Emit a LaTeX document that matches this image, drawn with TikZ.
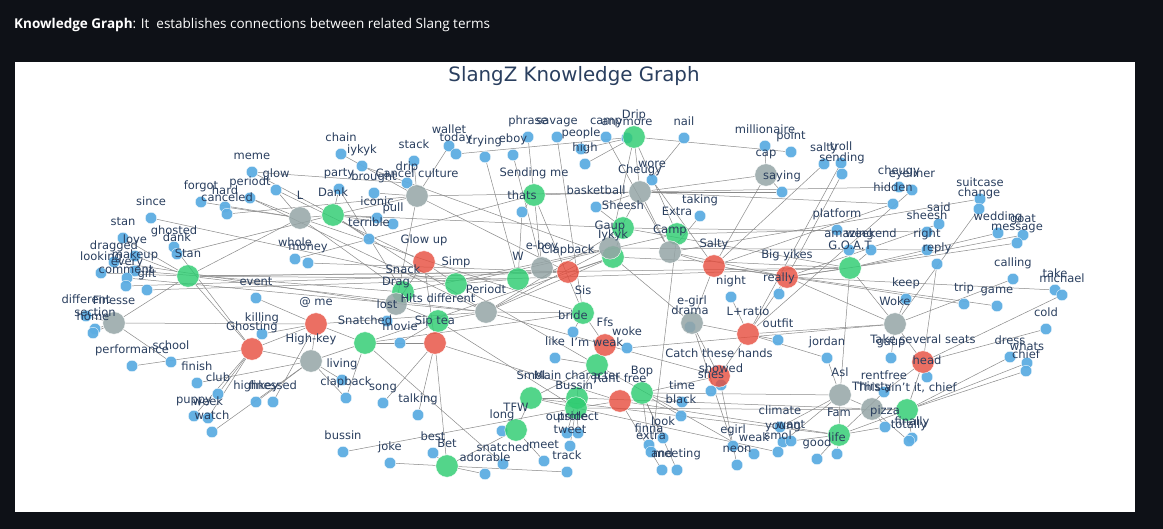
\documentclass[tikz,border=0pt]{standalone}
\usepackage{fontspec}
\setmainfont{DejaVu Sans}
\newfontfamily\hdrfont{Open Sans}
\definecolor{bgdark}{HTML}{0E1117}
\definecolor{titlecol}{HTML}{2A3F5F}
\definecolor{nblue}{HTML}{5DADE2}
\definecolor{ngreen}{HTML}{2ECC71}
\definecolor{ngray}{HTML}{95A5A6}
\definecolor{nred}{HTML}{E74C3C}
\definecolor{edgecol}{HTML}{8A8A8A}
\pgfdeclarelayer{bg}
\pgfdeclarelayer{edges}
\pgfsetlayers{bg,edges,main}
\tikzset{
  bnode/.style={circle,inner sep=0,minimum size=11.5pt,fill=nblue,fill opacity=0.95,draw=white,line width=0.3pt},
  gnode/.style={circle,inner sep=0,minimum size=22.5pt,fill=ngreen,fill opacity=0.82,draw=white,line width=0.4pt},
  ynode/.style={circle,inner sep=0,minimum size=22.5pt,fill=ngray,fill opacity=0.85,draw=white,line width=0.4pt},
  rnode/.style={circle,inner sep=0,minimum size=22.5pt,fill=nred,fill opacity=0.8,draw=white,line width=0.4pt},
  lbl/.style={inner sep=0,anchor=base,text=titlecol,font=\fontsize{11.5}{12}\selectfont},
  edge/.style={draw=edgecol,line width=0.5pt}
}
\def\bluelist{chain/341/154/chain,iykyk/362/166/iykyk,meme/252/172/meme,glow/276/190/glow,periodt/250/198/periodt,forgot/201/202/forgot,hard/225/207/hard,canceled/227/214/canceled,party/339/189/party,brought/374/193/brought,since/151/218/since,stan/123/238/stan,ghosted/174/247/ghosted,dank/177/254/dank,love/135/256/love,dragged/114/262/dragged,makeup/135/271/makeup,looking/101/273/looking,every/127/278/every,comment/126/286/comment,gift/147/290/gift,different/86/316/different,section/95/329/section,home/93/333/home,event/256/298/event,whole/295/259/whole,money/308/263/money,killing/262/334/killing,performance/132/366/performance,school/171/362/school,finish/197/383/finish,club/218/394/club,highkey/256/402/highkey,finessed/273/402/finessed,puppy/194/416/puppy,week/208/418/week,watch/212/432/watch,bussin/343/452/bussin,living/342/380/living,clapback/346/398/clapback,wallet/449/146/wallet,today/456/154/today,stack/414/161/stack,trying/485/157/trying,eboy/513/155/eboy,phrase/528/137/phrase,savage/557/137/savage,people/581/149/people,high/585/164/high,camp/606/137/camp,anymore/627/138/anymore,drip/407/183/drip,iconic/377/218/iconic,pull/393/224/pull,terrible/369/239/terrible,thats/522/212/thats,basketball/596/207/basketball,nail/684/138/nail,millionaire/765/146/millionaire,point/791/152/point,saying/782/192/saying,salty/824/164/salty,troll/841/163/troll,sending/842/174/sending,wore/652/180/wore,taking/700/216/taking,platform/837/230/platform,amazing/849/250/amazing,weekend/871/250/weekend,cheugy/899/187/cheugy,eyeliner/912/190/eyeliner,hidden/893/204/hidden,suitcase/980/199/suitcase,change/979/209/change,said/939/224/said,sheesh/927/232/sheesh,right/927/250/right,reply/937/264/reply,wedding/998/233/wedding,goat/1023/235/goat,message/1017/243/message,calling/1013/279/calling,take/1055/290/take,michael/1062/295/michael,keep/906/299/keep,trip/964/304/trip,game/997/306/game,cold/1046/329/cold,gaup/891/358/gaup,jordan/827/358/jordan,dress/1010/357/dress,whats/1027/363/whats,chief/1026/371/chief,head/927/377/head,rentfree/884/392/rentfree,pizza/885/427/pizza,finally/912/438/finally,totally/909/441/totally,life/837/454/life,good/817/459/good,climate/780/427/climate,young/783/442/young,want/791/441/want,smol/778/452/smol,weak/754/454/weak,egirl/733/446/egirl,neon/737/465/neon,look/663/438/look,finna/649/445/finna,extra/651/452/extra,and/662/470/and,meeting/677/470/meeting,time/682/402/time,black/681/416/black,showed/721/385/showed,shes/711/391/shes,song/383/403/song,talking/418/415/talking,long/502/431/long,outside/567/433/outside,protect/578/433/protect,tweet/570/446/tweet,meet/544/461/meet,track/567/472/track,best/433/453/best,joke/390/463/joke,snatched/503/464/snatched,adorable/485/474/adorable,lost/387/321/lost,movie/400/343/movie,bride/573/332/bride,woke/627/348/woke,like/555/358/like,night/731/297/night,really/779/294/really,drama/690/327/drama,outfit/778/340/outfit}
\def\greenlist{Drip/634/137/Drip,Sendingme/534/195/Sending me,Dank/333/215/Dank,Sheesh/623/228/Sheesh,Iykyk/613/257/Iykyk,Extra/677/234/Extra,Stan/188/276/Stan,Simp/456/284/Simp,Snack/403/292/Snack,W/518/279/W,GOAT/850/268/G.O.A.T,Hits/438/321/Hits different,Sis/583/313/Sis,Snatched/365/343/Snatched,Imweak/597/365/I’m weak,Smol/531/398/Smol,Mainchar/577/398/Main character,Bussin/576/408/Bussin’,Bop/642/393/Bop,TFW/516/430/TFW,Thisaint/907/410/This ain’t it{,} chief,Fam/839/435/Fam,Bet/447/466/Bet}
\def\graylist{L/300/218/L,Cancel/417/196/Cancel culture,Cheugy/640/192/Cheugy,cap/766/175/cap,Gaup/610/248/Gaup,Camp/670/252/Camp,eBoy/542/268/e-boy,Drag/396/304/Drag,Periodt/486/312/Periodt,Finesse/114/323/Finesse,eGirl/692/323/e-girl,Woke/895/324/Woke,Highkey/311/361/High-key,Asl/840/395/Asl,GrayB/872/409/Thirsty}
\def\redlist{Glowup/424/262/Glow up,Clapback/568/272/Clapback,Salty/714/266/Salty,Bigyikes/787/277/Big yikes,Atme/316/324/@ me,Ghosting/252/349/Ghosting,Siptea/435/343/Sip tea,Lratio/748/334/L+ratio,Ffs/605/345/Ffs,Catch/719/376/Catch these hands,Rantfree/620/401/Rant free,Takeseats/923/362/Take several seats}
\begin{document}
\begin{tikzpicture}[x=1pt,y=-1pt]
\useasboundingbox (0,0) rectangle (1163,529);
\begin{pgfonlayer}{bg}
\fill[bgdark] (0,0) rectangle (1163,529);
\fill[white] (15,62) rectangle (1135,512);
\end{pgfonlayer}
\node[anchor=base west,inner sep=0,text=white,font=\hdrfont\fontsize{13.5}{16}\selectfont] (hdr) at (14,29) {\textbf{Knowledge Graph}: It\ \ establishes connections between related Slang terms};
\node[anchor=base,inner sep=0,text=titlecol,font=\fontsize{19.8}{22}\selectfont] (title) at (574,82) {SlangZ Knowledge Graph};
% nodes
\foreach \n/\x/\y/\t in \bluelist {\node[bnode] (\n) at (\x,\y) {};}
\foreach \n/\x/\y/\t in \greenlist {\node[gnode] (\n) at (\x,\y) {};}
\foreach \n/\x/\y/\t in \graylist {\node[ynode] (\n) at (\x,\y) {};}
\foreach \n/\x/\y/\t in \redlist {\node[rnode] (\n) at (\x,\y) {};}
% edges
\begin{pgfonlayer}{edges}
\foreach \a/\b in {chain/Cancel,iykyk/Iykyk,meme/Dank,meme/drip,glow/Glowup,glow/L,periodt/Periodt,periodt/L,forgot/L,hard/L,canceled/Cancel,party/Dank,party/Snack,brought/Cancel,since/Simp,stan/Stan,ghosted/Ghosting,dank/Dank,love/Stan,dragged/Drag,makeup/Snack,looking/Stan,every/Periodt,comment/Clapback,gift/GOAT,different/Finesse,section/Finesse,home/Finesse,event/Atme,whole/Sendingme,money/Clapback,killing/Ghosting,killing/Atme,performance/Ghosting,school/Finesse,finish/Highkey,club/Ghosting,highkey/Highkey,finessed/Atme,puppy/Ghosting,week/Ghosting,watch/Highkey,bussin/Bussin,living/Highkey,clapback/Highkey,clapback/Snatched,wallet/Cancel,today/Drip,stack/Cancel,trying/W,eboy/eBoy,phrase/Sendingme,savage/Sis,people/Drip,high/Drip,camp/Camp,anymore/Drip,drip/Cancel,iconic/Dank,pull/Dank,terrible/Dank,thats/Sendingme,thats/W,basketball/Sheesh,basketball/Cheugy,nail/Cheugy,millionaire/cap,point/Drip,saying/cap,saying/Cheugy,salty/Salty,troll/Lratio,sending/Bigyikes,wore/Cheugy,wore/Salty,taking/Camp,platform/Extra,amazing/GOAT,weekend/GOAT,cheugy/Cheugy,eyeliner/Lratio,hidden/Cheugy,hidden/Salty,suitcase/Camp,change/Woke,said/Bigyikes,sheesh/Sheesh,right/Gaup,reply/Takeseats,wedding/GOAT,goat/GOAT,message/Bigyikes,calling/Woke,take/Bigyikes,michael/Takeseats,keep/Woke,trip/Bigyikes,game/Salty,cold/Takeseats,gaup/Woke,jordan/Lratio,jordan/Asl,dress/Thisaint,whats/Thisaint,chief/Thisaint,head/Takeseats,rentfree/Takeseats,rentfree/Fam,pizza/Fam,pizza/GrayB,finally/Thisaint,totally/GrayB,life/Fam,good/Fam,climate/Asl,young/Asl,want/Fam,smol/Smol,weak/Imweak,egirl/eGirl,neon/Catch,look/Bop,finna/Bop,extra/Extra,and/Rantfree,meeting/Bop,time/Bop,black/Bop,showed/Catch,shes/Catch,song/Siptea,talking/Siptea,long/TFW,outside/Mainchar,protect/Mainchar,tweet/Bussin,meet/TFW,track/Bet,best/Bet,joke/Bet,snatched/Snatched,adorable/Bet,lost/Drag,movie/Hits,bride/Sis,woke/Woke,like/Imweak,night/Lratio,really/Bigyikes,drama/eGirl,outfit/Lratio}
  {\draw[edge] (\a) -- (\b);}
\foreach \a/\b in {Stan/L,Stan/Periodt,Stan/W,Stan/Clapback,Stan/GOAT,Stan/Finesse,Stan/Ghosting,L/Dank,L/Sis,L/Snack,Dank/Cancel,Dank/Periodt,Dank/Sheesh,Cancel/Clapback,Cancel/Drag,Cancel/Cheugy,Sendingme/Cheugy,Sendingme/eBoy,Sendingme/Sis,Drip/Extra,Drip/Cheugy,Drip/Gaup,Cheugy/Gaup,Cheugy/cap,Cheugy/Camp,cap/Salty,Sheesh/Iykyk,Sheesh/Periodt,Sheesh/GOAT,Gaup/Periodt,Iykyk/Periodt,Iykyk/Snatched,Gaup/Snack,Iykyk/GOAT,Extra/Camp,Extra/Simp,Camp/Salty,Camp/Bigyikes,Salty/Bigyikes,Salty/eGirl,Bigyikes/GOAT,Bigyikes/Lratio,Bigyikes/Woke,GOAT/Asl,GOAT/Woke,Woke/Takeseats,Woke/Lratio,Glowup/Simp,Glowup/Drag,Glowup/Siptea,Simp/W,W/eBoy,eBoy/Clapback,Clapback/Iykyk,Periodt/Hits,Periodt/Sis,Periodt/Catch,Periodt/Atme,Snack/Drag,Drag/Hits,Hits/Siptea,Atme/Snatched,Atme/Ghosting,Atme/Highkey,Finesse/Atme,Ghosting/Highkey,Highkey/Snatched,Snatched/Siptea,Snatched/Sis,Sis/Ffs,Ffs/Imweak,Imweak/Smol,Imweak/Mainchar,Mainchar/Bussin,Bussin/Rantfree,Rantfree/Bop,Smol/Mainchar,Smol/TFW,Bop/Catch,Catch/Lratio,Catch/eGirl,eGirl/Lratio,eGirl/Iykyk,Asl/Fam,Asl/GrayB,GrayB/Thisaint,Thisaint/Takeseats,Fam/Thisaint,TFW/Bet,Bet/Siptea,Siptea/Rantfree,Hits/Bussin,Simp/Imweak,Bop/Asl,Rantfree/Fam,Mainchar/GrayB,Smol/Fam,Bussin/Thisaint}
  {\draw[edge] (\a) -- (\b);}
\end{pgfonlayer}
% labels on top
\foreach \n/\x/\y/\t in \bluelist {\node[lbl] (\n-l) at ([yshift=12.5pt]\n.center) {\t};}
\foreach \n/\x/\y/\t in \greenlist {\node[lbl] (\n-l) at ([yshift=18.5pt]\n.center) {\t};}
\foreach \n/\x/\y/\t in \graylist {\node[lbl] (\n-l) at ([yshift=18.5pt]\n.center) {\t};}
\foreach \n/\x/\y/\t in \redlist {\node[lbl] (\n-l) at ([yshift=18.5pt]\n.center) {\t};}
\end{tikzpicture}
\end{document}
